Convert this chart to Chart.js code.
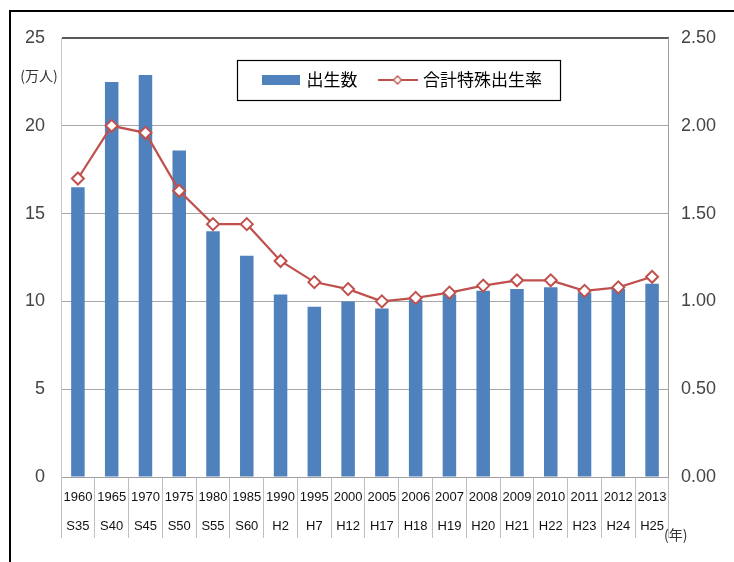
<!DOCTYPE html>
<html lang="ja">
<head>
<meta charset="UTF-8">
<title>出生数と合計特殊出生率</title>
<script src="https://cdn.jsdelivr.net/npm/chart.js"></script>
<style>
  body { margin: 0; background: #fff; }
  .wrap { position: relative; width: 734px; height: 562px; overflow: hidden; }
  .frame {
    position: absolute; left: 9px; top: 10px; width: 740px; height: 560px;
    border-top: 2px solid #000; border-left: 2px solid #000;
  }
  #birthChart { position: absolute; left: 0; top: 0; }
</style>
</head>
<body>
<div class="wrap">
  <div class="frame"></div>
  <canvas id="birthChart" width="734" height="562"></canvas>
</div>
<script>
// 年（西暦）と和暦
const years = ['1960', '1965', '1970', '1975', '1980', '1985', '1990', '1995', '2000',
  '2005', '2006', '2007', '2008', '2009', '2010', '2011', '2012', '2013'];
const eras = ['S35', 'S40', 'S45', 'S50', 'S55', 'S60', 'H2', 'H7', 'H12',
  'H17', 'H18', 'H19', 'H20', 'H21', 'H22', 'H23', 'H24', 'H25'];

// 出生数（万人）
const births = [16.5, 22.5, 22.9, 18.6, 14.0, 12.6, 10.4, 9.7, 10.0,
  9.6, 10.1, 10.4, 10.6, 10.7, 10.8, 10.5, 10.7, 11.0];
// 合計特殊出生率
const fertility = [1.70, 2.00, 1.96, 1.63, 1.44, 1.44, 1.23, 1.11, 1.07,
  1.00, 1.02, 1.05, 1.09, 1.12, 1.12, 1.06, 1.08, 1.14];

const BLUE = '#4f81bd';
const RED = '#c0504d';
const legendFontSize = 17;

// legend icons
function barIcon() {
  const c = document.createElement('canvas');
  c.width = 38; c.height = 10;
  const g = c.getContext('2d');
  g.fillStyle = BLUE;
  g.fillRect(0, 0, 38, 10);
  return c;
}
function lineIcon() {
  const c = document.createElement('canvas');
  c.width = 40; c.height = 12;
  const g = c.getContext('2d');
  g.strokeStyle = RED;
  g.lineWidth = 2;
  g.beginPath(); g.moveTo(0, 6); g.lineTo(40, 6); g.stroke();
  g.beginPath();
  g.moveTo(20, 2); g.lineTo(24, 6); g.lineTo(20, 10); g.lineTo(16, 6); g.closePath();
  g.fillStyle = '#fff'; g.fill();
  g.lineWidth = 1.3; g.stroke();
  return c;
}
const icons = [barIcon(), lineIcon()];

// move legend inside the plot and draw its frame, plus unit labels
const extras = {
  id: 'extras',
  afterLayout(chart) {
    const lg = chart.legend;
    const a = chart.chartArea;
    const w = lg.width, h = lg.height;
    lg.left = a.left + 180;
    lg.right = lg.left + w;
    lg.top = a.top + 10.5;
    lg.bottom = lg.top + h;
  },
  afterDraw(chart) {
    const ctx = chart.ctx;
    const a = chart.chartArea;
    const lg = chart.legend;
    const hb = lg.legendHitBoxes;
    if (hb && hb.length) {
      const pad = lg.options.labels.padding;
      const cy = lg.top + pad + legendFontSize / 2;
      const x0 = Math.round(hb[0].left - 27) + 0.5;
      const last = hb[hb.length - 1];
      const x1 = Math.round(last.left + last.width + 18) + 0.5;
      ctx.save();
      ctx.strokeStyle = '#000';
      ctx.lineWidth = 1.2;
      ctx.strokeRect(x0, Math.round(cy - 20) + 0.5, x1 - x0, 40);
      ctx.restore();
    }
    ctx.save();
    ctx.fillStyle = '#333';
    ctx.font = '14px "Noto Sans CJK JP"';
    ctx.textAlign = 'center';
    ctx.textBaseline = 'middle';
    ctx.fillText('(万人)', a.left - 22, a.top + 38);
    ctx.textAlign = 'left';
    ctx.fillText('(年)', a.right - 5, a.bottom + 58);
    ctx.restore();
  }
};

const ctx = document.getElementById('birthChart').getContext('2d');
new Chart(ctx, {
  type: 'bar',
  data: {
    labels: years.map((y, i) => [y, eras[i]]),
    datasets: [
      {
        type: 'bar',
        label: '出生数',
        data: births,
        backgroundColor: BLUE,
        borderWidth: 0,
        barPercentage: 0.4,
        categoryPercentage: 1.0,
        yAxisID: 'y',
        order: 1
      },
      {
        type: 'line',
        label: '合計特殊出生率',
        data: fertility,
        borderColor: RED,
        borderWidth: 2.2,
        pointStyle: 'rectRot',
        pointRadius: 6,
        pointBorderWidth: 2,
        pointBackgroundColor: '#fff',
        pointBorderColor: RED,
        tension: 0,
        yAxisID: 'y1',
        order: 0
      }
    ]
  },
  options: {
    responsive: false,
    animation: false,
    layout: { padding: { top: -12, left: 9, right: 6, bottom: 20 } },
    scales: {
      x: {
        offset: true,
        grid: { display: true, drawOnChartArea: false, drawTicks: true, tickLength: 61, color: '#bfbfbf', offset: true },
        border: { display: true, color: '#a0a0a0' },
        ticks: {
          padding: -56,
          color: '#111',
          font: { family: 'Liberation Sans', size: 13, lineHeight: 2.3 },
          maxRotation: 0,
          autoSkip: false
        },
        // tick marks run through the label rows, so set the height by hand
        afterFit: scale => { scale.height = 65; }
      },
      y: {
        position: 'left',
        min: 0, max: 25,
        ticks: {
          stepSize: 5,
          padding: 16,
          color: '#444',
          font: { family: 'Liberation Sans', size: 18 }
        },
        grid: {
          drawTicks: false,
          color: c => c.tick.value === 25 ? '#595959' : '#a6a6a6',
          lineWidth: c => c.tick.value === 25 ? 2 : 1
        },
        border: { display: true, color: '#c8c8c8' }
      },
      y1: {
        position: 'right',
        min: 0, max: 2.5,
        ticks: {
          stepSize: 0.5,
          padding: 12,
          color: '#444',
          font: { family: 'Liberation Sans', size: 18 },
          callback: v => Number(v).toFixed(2)
        },
        grid: { drawOnChartArea: false, drawTicks: false },
        border: { display: true, color: '#a0a0a0' }
      }
    },
    plugins: {
      legend: {
        position: 'top',
        align: 'start',
        labels: {
          usePointStyle: true,
          pointStyleWidth: 34,
          boxHeight: 10,
          padding: 23,
          color: '#000',
          font: { family: '"Noto Sans CJK JP"', size: legendFontSize },
          generateLabels: chart => chart.data.datasets.map((ds, i) => ({
            text: ds.label,
            pointStyle: icons[i],
            fillStyle: i === 0 ? BLUE : '#fff',
            strokeStyle: i === 0 ? BLUE : RED,
            lineWidth: 0,
            hidden: false,
            datasetIndex: i
          }))
        }
      },
      tooltip: { enabled: false }
    }
  },
  plugins: [extras]
});
</script>
</body>
</html>
